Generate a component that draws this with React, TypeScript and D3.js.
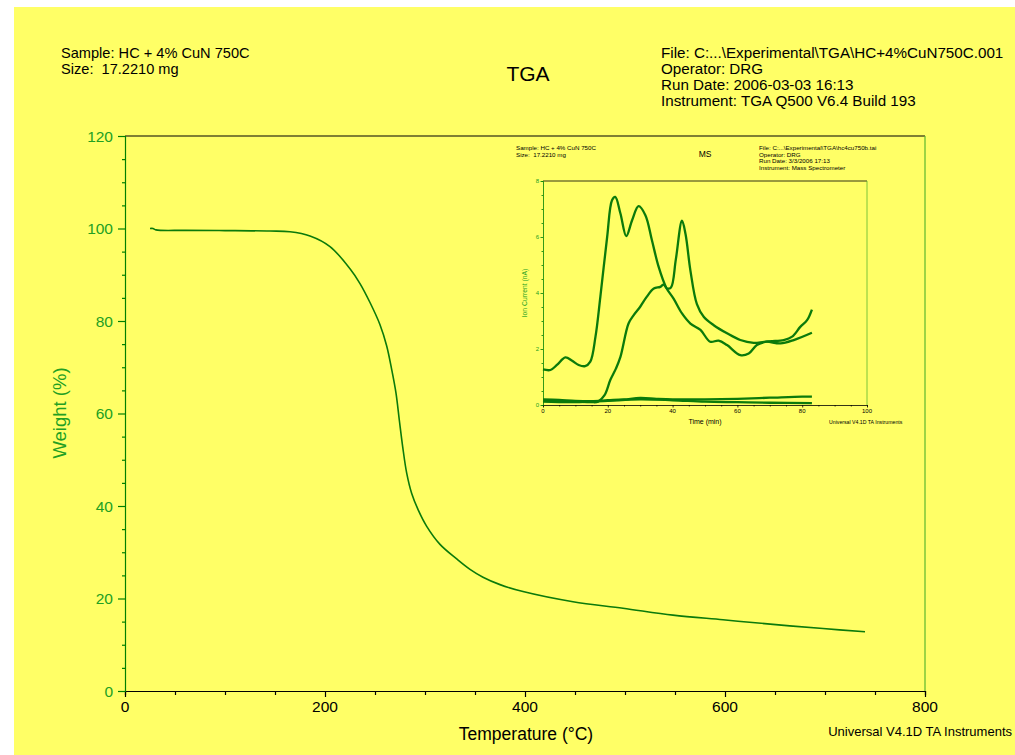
import React, { useEffect, useRef } from "react";
import * as d3 from "d3";

// main TGA trace: temperature (°C) vs weight (%)
const tgaTemp = [25, 28, 31, 60, 100, 145, 165, 185, 205, 225, 235, 245, 255, 261.7, 266.7, 271, 274.3, 277.7, 281.7, 286.7, 293.3, 301.7, 315, 332, 345, 358, 375, 398, 448, 498, 548, 598, 648, 698, 740];
const tgaWeight = [100.0, 100.0, 99.7, 99.6, 99.55, 99.45, 99.3, 98.4, 96.1, 91.3, 88.1, 84.0, 79.2, 74.6, 69.5, 64.4, 58.6, 52.8, 47.1, 42.7, 39.1, 35.6, 31.7, 28.5, 26.3, 24.6, 23.0, 21.5, 19.3, 17.9, 16.4, 15.4, 14.4, 13.5, 12.8];

const mainXTicks = [0, 200, 400, 600, 800];
const mainYTicks = [0, 20, 40, 60, 80, 100, 120];

// inset MS traces: time (min) vs ion current (nA)
const msTimeA = [0, 2.3, 4.3, 6.9, 9, 11, 13, 14.6, 16.2, 17.7, 19.8, 21.3, 22.3, 23.9, 25.7, 27.5, 29.5, 31.6, 33.6, 35.7, 38, 40.3, 42.9, 45.5, 48.6, 51.6, 54.2, 56.8, 60.9, 63.5, 66, 69, 74.3, 76.9, 79.4, 81.5, 83];
const msIonA = [1.27, 1.25, 1.43, 1.7, 1.58, 1.43, 1.39, 1.55, 2.44, 3.86, 6.0, 7.31, 7.43, 6.84, 6.03, 6.6, 7.1, 6.78, 5.89, 4.93, 4.2, 3.8, 3.27, 2.91, 2.68, 2.26, 2.3, 2.14, 1.78, 1.84, 2.14, 2.26, 2.32, 2.44, 2.79, 3.03, 3.41];

const msTimeB = [0, 5, 10, 15, 17, 19, 20.8, 22.5, 23.9, 26.4, 28, 30, 32, 34.2, 36.2, 37.2, 38.3, 39.5, 41, 42.9, 44, 45.5, 47.5, 49.6, 52.7, 56.8, 60.9, 65, 69, 73.3, 77.4, 83];
const msIonB = [0.15, 0.13, 0.12, 0.1, 0.12, 0.35, 0.9, 1.3, 1.72, 2.91, 3.21, 3.51, 3.86, 4.16, 4.22, 4.3, 4.16, 4.2, 5.2, 6.58, 6.1, 4.8, 3.6, 3.15, 2.85, 2.56, 2.32, 2.22, 2.26, 2.2, 2.32, 2.58];

const msTimeC = [0, 5, 10, 15, 20, 25, 30, 35, 40, 50, 60, 70, 80, 83];
const msIonC = [0.2, 0.18, 0.15, 0.14, 0.17, 0.2, 0.25, 0.22, 0.2, 0.2, 0.22, 0.26, 0.3, 0.3];

const msTimeD = [0, 10, 20, 30, 40, 50, 60, 70, 83];
const msIonD = [0.12, 0.1, 0.15, 0.2, 0.17, 0.12, 0.1, 0.08, 0.07];

const msXTicks = [0, 20, 40, 60, 80, 100];
const msYTicks = [0, 2, 4, 6, 8];

const FONT = "'Liberation Sans', Arial, sans-serif";
const BG = "#ffff66";
const GREEN = "#008000";
const GREEN_TXT = "#22a022";
const CURVE = "#0b7a0b";

function App() {
  const ref = useRef<SVGSVGElement>(null);

  useEffect(() => {
    const svg = d3.select(ref.current);
    svg.selectAll("*").remove();

    svg.append("rect").attr("x", 14).attr("y", 7).attr("width", 1001).attr("height", 748).attr("fill", BG);

    const txt = (x: number, y: number, s: string, size: number, anchor = "start", fill = "#000") =>
      svg.append("text").attr("x", x).attr("y", y).attr("font-size", size).attr("font-family", FONT)
        .attr("text-anchor", anchor).attr("fill", fill).style("white-space", "pre").text(s);

    // header of the main chart
    txt(61, 58, "Sample: HC + 4% CuN 750C", 14.6);
    txt(61, 74, "Size:  17.2210 mg", 14.6);
    txt(528, 81, "TGA", 21, "middle");
    txt(661, 58, "File: C:...\\Experimental\\TGA\\HC+4%CuN750C.001", 15.2);
    txt(661, 74, "Operator: DRG", 15.2);
    txt(661, 90, "Run Date: 2006-03-03 16:13", 15.2);
    txt(661, 106, "Instrument: TGA Q500 V6.4 Build 193", 15.2);

    // main axes
    const x = d3.scaleLinear().domain([0, 800]).range([125, 925]);
    const y = d3.scaleLinear().domain([0, 120]).range([691, 136]);

    svg.append("line").attr("x1", 125).attr("x2", 925).attr("y1", 136).attr("y2", 136).attr("stroke", "#000").attr("stroke-width", 1.2);
    svg.append("line").attr("x1", 925).attr("x2", 925).attr("y1", 136).attr("y2", 691).attr("stroke", "#5cb82e").attr("stroke-width", 1.2);

    const gx = svg.append("g").attr("transform", "translate(0,691)");
    gx.call(d3.axisBottom(x).tickValues(d3.range(0, 801, 50)).tickSize(4).tickFormat(() => "") as any);
    gx.selectAll("line,path").attr("stroke", "#000").attr("stroke-width", 1.2);
    gx.selectAll(".tick line").filter((d: any) => d % 200 === 0).attr("y2", 6);
    mainXTicks.forEach((t) => txt(x(t), 712, String(t), 15.5, "middle"));

    const gy = svg.append("g").attr("transform", "translate(125,0)");
    gy.call(d3.axisLeft(y).tickValues(d3.range(0, 121, 5)).tickSize(3).tickFormat(() => "") as any);
    gy.selectAll("line,path").attr("stroke", GREEN).attr("stroke-width", 1.2);
    gy.selectAll(".tick line").filter((d: any) => d % 20 === 0).attr("x2", -7);
    mainYTicks.forEach((t) => txt(113, y(t) + 5.5, String(t), 15.5, "end", GREEN_TXT));

    txt(526, 740, "Temperature (°C)", 17.5, "middle");
    svg.append("text").attr("transform", "translate(66,413) rotate(-90)").attr("text-anchor", "middle")
      .attr("font-size", 18.5).attr("font-family", FONT).attr("fill", GREEN_TXT).text("Weight (%)");
    txt(1012, 736, "Universal V4.1D TA Instruments", 13, "end");

    const tgaLine = d3.line<number>().x((d, i) => x(tgaTemp[i])).y((d) => y(d)).curve(d3.curveCatmullRom.alpha(0.5));
    svg.append("path").attr("d", tgaLine(tgaWeight)).attr("fill", "none").attr("stroke", CURVE).attr("stroke-width", 1.6);

    // inset MS chart
    txt(516, 150, "Sample: HC + 4% CuN 750C", 6.2);
    txt(516, 156.5, "Size:  17.2210 mg", 6.2);
    txt(705, 157, "MS", 8.5, "middle");
    txt(759, 150, "File: C:...\\Experimental\\TGA\\hc4cu750b.tai", 6.2);
    txt(759, 156.7, "Operator: DRG", 6.2);
    txt(759, 163.4, "Run Date: 3/3/2006 17:13", 6.2);
    txt(759, 170.1, "Instrument: Mass Spectrometer", 6.2);

    const ix = d3.scaleLinear().domain([0, 100]).range([543, 867]);
    const iy = d3.scaleLinear().domain([0, 8]).range([405, 181]);

    svg.append("line").attr("x1", 543).attr("x2", 867).attr("y1", 181).attr("y2", 181).attr("stroke", "#000").attr("stroke-width", 0.8);
    svg.append("line").attr("x1", 867).attr("x2", 867).attr("y1", 181).attr("y2", 405).attr("stroke", "#5cb82e").attr("stroke-width", 0.8);

    const igx = svg.append("g").attr("transform", "translate(0,405)");
    igx.call(d3.axisBottom(ix).tickValues(d3.range(0, 101, 5)).tickSize(1.5).tickFormat(() => "") as any);
    igx.selectAll("line,path").attr("stroke", "#000").attr("stroke-width", 0.8);
    igx.selectAll(".tick line").filter((d: any) => d % 20 === 0).attr("y2", 2.5);
    msXTicks.forEach((t) => txt(ix(t), 412.5, String(t), 6, "middle"));

    const igy = svg.append("g").attr("transform", "translate(543,0)");
    igy.call(d3.axisLeft(iy).tickValues(d3.range(0, 8.01, 0.5)).tickSize(1.5).tickFormat(() => "") as any);
    igy.selectAll("line,path").attr("stroke", GREEN).attr("stroke-width", 0.8);
    igy.selectAll(".tick line").filter((d: any) => d % 2 === 0).attr("x2", -2.5);
    msYTicks.forEach((t) => txt(539, iy(t) + 2, String(t), 6, "end", GREEN_TXT));

    txt(705, 424, "Time (min)", 7, "middle");
    svg.append("text").attr("transform", "translate(527,293) rotate(-90)").attr("text-anchor", "middle")
      .attr("font-size", 6.8).attr("font-family", FONT).attr("fill", GREEN_TXT).text("Ion Current (nA)");
    txt(829, 423.5, "Universal V4.1D TA Instruments", 5.2);

    const series: [number[], number[]][] = [
      [msTimeA, msIonA],
      [msTimeB, msIonB],
      [msTimeC, msIonC],
      [msTimeD, msIonD],
    ];
    series.forEach(([ts, vs]) => {
      const ln = d3.line<number>().x((d, i) => ix(ts[i])).y((d) => iy(d)).curve(d3.curveCatmullRom.alpha(0.5));
      svg.append("path").attr("d", ln(vs)).attr("fill", "none").attr("stroke", CURVE).attr("stroke-width", 2.3)
        .attr("stroke-linejoin", "round");
    });
  }, []);

  return (
    <div style={{ position: "absolute", left: 0, top: 0 }}>
      <svg ref={ref} width={1015} height={755} style={{ display: "block", background: "#fff" }} />
    </div>
  );
}

export default App;
